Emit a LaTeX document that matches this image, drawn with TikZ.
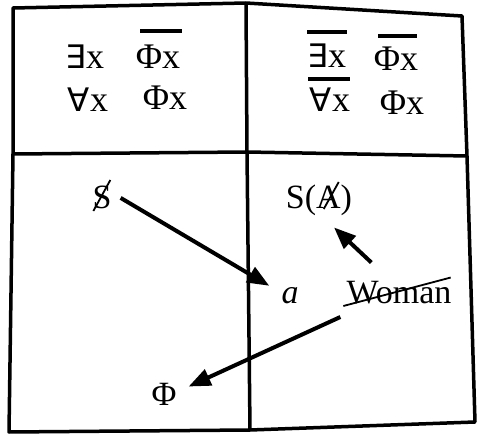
\documentclass[tikz,border=0pt]{standalone}
\usepackage{fontspec}
\setmainfont{Liberation Serif}
\newfontfamily\quantfont[Scale=0.9]{DejaVu Sans}
\usetikzlibrary{arrows.meta}

\begin{document}
\begin{tikzpicture}[x=1pt, y=-1pt,
    % frame and formulas
    frame/.style={line width=3.5pt, line join=round},
    sym/.style={inner sep=0pt, anchor=base, font=\fontsize{36}{40}\selectfont},
    lbl/.style={inner sep=0pt, anchor=base, font=\fontsize{34}{40}\selectfont},
    bar/.style={line width=3.5pt},
    % arrows
    arr/.style={line width=4pt, -{Triangle[length=22pt,width=17pt]}},
    strike/.style={line width=1.8pt}
]
\useasboundingbox (0,0) rectangle (483,436);

% Frame
\coordinate (tl) at (13,8);
\coordinate (tm) at (246,3);
\coordinate (tr) at (462,16);
\coordinate (mr) at (467,156);
\coordinate (br) at (475,422);
\coordinate (bm) at (250,430);
\coordinate (bl) at (9,432);
\coordinate (ml) at (13,154);
\coordinate (mm) at (247,152);
\draw[frame] (tl) -- (tm) -- (tr) -- (mr) -- (br) -- (bm) -- (bl) -- (ml) -- cycle;
\draw[frame] (tm) -- (mm) -- (bm);
\draw[frame] (ml) -- (mm) -- (mr);

% Upper left quadrant
\node[sym] (exL) at (85,69) {{\quantfont ∃}x};
\node[sym] (phL1) at (158,69) {Φx};
\node[sym] (alL) at (88,112) {{\quantfont ∀}x};
\node[sym] (phL2) at (165,110) {Φx};
\draw[bar] (140,31) -- (182,31);

% Upper right quadrant
\node[sym] (exR) at (327,68) {{\quantfont ∃}x};
\node[sym] (phR1) at (396,71) {Φx};
\node[sym] (alR) at (330,112) {{\quantfont ∀}x};
\node[sym] (phR2) at (402,115) {Φx};
\draw[bar] (307,32) -- (347,32);
\draw[bar] (378,36) -- (417,36);
\draw[bar] (308,79) -- (350,79);

% Lower quadrants
\node[lbl] (subj) at (102,209) {S};
\node[lbl] (sA) at (319,208) {S(A)};
\node[lbl] (objA) at (290,304) {\itshape a};
\node[lbl] (woman) at (399,303) {Woman};
\node[lbl] (phal) at (164,405) {Φ};
% bars through S, A and Woman
\draw[strike] ([shift={(1pt,-2pt)}]subj.base west) -- ([shift={(18pt,29pt)}]subj.base west);
\draw[strike] ([shift={(38pt,-1pt)}]sA.base west) -- ([shift={(53pt,26pt)}]sA.base west);
\draw[strike] ([shift={(-3pt,-3pt)}]woman.base west) -- ([shift={(-1pt,3pt)}]woman.north east);

% Arrows
\draw[arr] ([xshift=9pt]subj.east) -- ([shift={(-12pt,2pt)}]objA.north west);
\draw[arr] ([shift={(25pt,18pt)}]woman.north west) -- ([xshift=15pt,yshift=-12pt]sA.south);
\draw[arr] ([shift={(-6pt,-14pt)}]woman.base west) -- ([shift={(12pt,-4pt)}]phal.north east);

\end{tikzpicture}
\end{document}
